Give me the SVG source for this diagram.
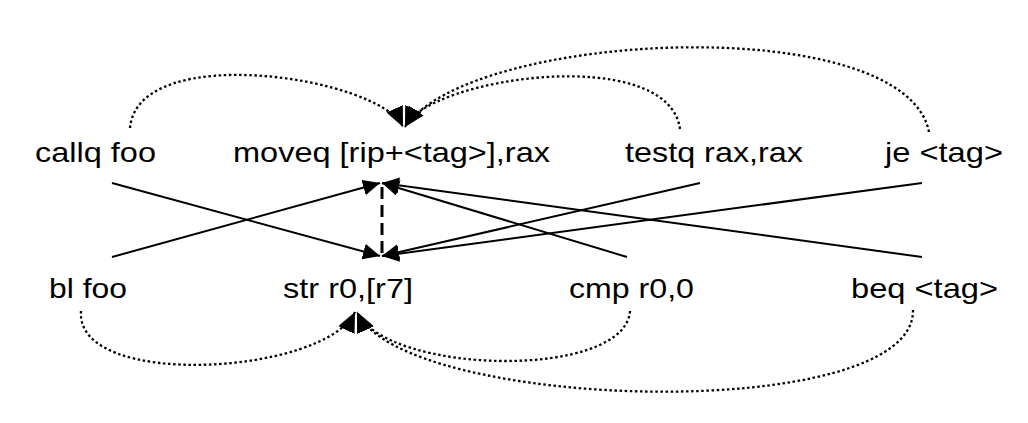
<svg xmlns="http://www.w3.org/2000/svg" width="1028" height="423" viewBox="0 0 1028 423">
<style>
text{font-family:"Liberation Sans",Arial,sans-serif;font-size:28px;fill:#000}
.solid{fill:none;stroke:#000;stroke-width:2}
.dash{fill:none;stroke:#000;stroke-width:3;stroke-dasharray:12 6}
.dot{fill:none;stroke:#000;stroke-width:2.3;stroke-dasharray:2.5 2.6}
</style>
<defs>
<marker id="ah" viewBox="0 0 17 16" refX="17" refY="8" markerWidth="17" markerHeight="16" markerUnits="userSpaceOnUse" orient="auto">
<path d="M0,0 L17,8 L0,16 z" fill="#000"/>
</marker>
<marker id="ahd" viewBox="0 0 20 18" refX="20" refY="9" markerWidth="20" markerHeight="18" markerUnits="userSpaceOnUse" orient="auto">
<path d="M0,0 L20,9 L0,18 z" fill="#000"/>
</marker>
</defs>
<rect width="1028" height="423" fill="#fff"/>
<g id="connectors">
<path class="solid" d="M112,183 L380,256" marker-end="url(#ah)"/>
<path class="solid" d="M112,257 L380,183" marker-end="url(#ah)"/>
<path class="solid" d="M700,183 L382,256" marker-end="url(#ah)"/>
<path class="solid" d="M922,183 L382,256" marker-end="url(#ah)"/>
<path class="solid" d="M627,257 L382,183" marker-end="url(#ah)"/>
<path class="solid" d="M922,257 L382,183" marker-end="url(#ah)"/>
<path class="dash" d="M382,187 L382,254"/>
<path class="dot" d="M130,128 C138,40 380,77 403,127" marker-end="url(#ahd)"/>
<path class="dot" d="M680,129 C668,43 428,77 405,127" marker-end="url(#ahd)"/>
<path class="dot" d="M929,132 C905,10 470,30 405,127" marker-end="url(#ahd)"/>
<path class="dot" d="M81,311 C75,390 325,375 355,312" marker-end="url(#ahd)"/>
<path class="dot" d="M630,311 C625,380 387,375 357,312" marker-end="url(#ahd)"/>
<path class="dot" d="M913,310 C915,425 403,412 357,312" marker-end="url(#ahd)"/>
</g>
<g id="n-callq"><text x="35" y="162" textLength="121" lengthAdjust="spacingAndGlyphs">callq foo</text></g>
<g id="n-moveq"><text x="233" y="162" textLength="317" lengthAdjust="spacingAndGlyphs">moveq [rip+&lt;tag&gt;],rax</text></g>
<g id="n-testq"><text x="625" y="162" textLength="178" lengthAdjust="spacingAndGlyphs">testq rax,rax</text></g>
<g id="n-je"><text x="885" y="162" textLength="118" lengthAdjust="spacingAndGlyphs">je &lt;tag&gt;</text></g>
<g id="n-bl"><text x="49" y="298" textLength="78" lengthAdjust="spacingAndGlyphs">bl foo</text></g>
<g id="n-str"><text x="283" y="298" textLength="130" lengthAdjust="spacingAndGlyphs">str r0,[r7]</text></g>
<g id="n-cmp"><text x="569" y="298" textLength="125" lengthAdjust="spacingAndGlyphs">cmp r0,0</text></g>
<g id="n-beq"><text x="851" y="298" textLength="147" lengthAdjust="spacingAndGlyphs">beq &lt;tag&gt;</text></g>
</svg>
